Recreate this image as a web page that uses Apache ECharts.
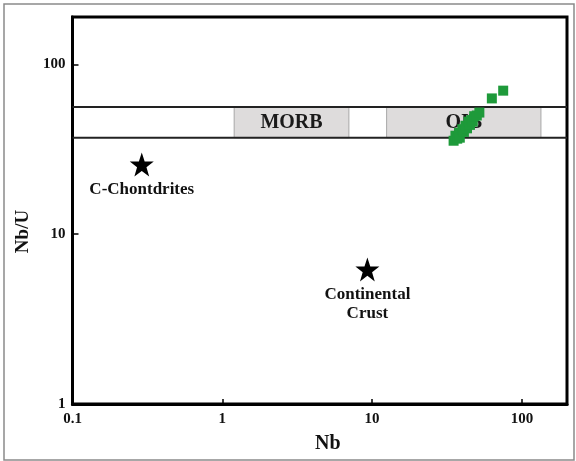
<!DOCTYPE html>
<html>
<head>
<meta charset="utf-8">
<script src="https://cdn.jsdelivr.net/npm/echarts@6/dist/echarts.min.js"></script>
<style>html,body{margin:0;padding:0;background:#fff;}#c{width:576px;height:461px;}</style>
</head>
<body>
<div id="c"></div>
<script>
// Data
var xTickLabels = [0.1, 1, 10, 100];
var yTickLabels = [1, 10, 100];
var bandLimits = [37, 56];              // Nb/U lower / upper bounds
var morbRange = [1.2, 7];               // Nb extent of MORB box
var oibRange = [12.5, 134];             // Nb extent of OIB box
var oibNb   = [35, 36, 37, 38, 38.5, 40, 41, 42, 43, 44, 45, 46, 47, 48, 50, 52, 63, 75];
var oibNbU  = [35.5, 38, 36.5, 39.5, 37, 41.5, 40, 43.5, 42, 46, 44, 47, 46, 49.5, 50, 52, 63, 70];
var refNames = ['C-Chontdrites', 'Continental\nCrust'];
var refNb    = [0.29, 9.3];
var refNbU   = [25.7, 6.2];

var FONT = 'Liberation Serif, DejaVu Serif, serif';
var STAR = 'path://M12,0 L14.9,8.6 L24,8.6 L16.7,14 L19.4,22.8 L12,17.5 L4.6,22.8 L7.3,14 L0,8.6 L9.1,8.6 Z';

var chart = echarts.init(document.getElementById('c'));
chart.setOption({
  backgroundColor: '#fff',
  animation: false,
  graphic: [{
    type: 'rect', shape: {x: 4, y: 4, width: 570, height: 456},
    style: {fill: 'none', stroke: '#8a8a8a', lineWidth: 1.5}, silent: true, z: 0
  }],
  grid: {left: 72.5, top: 17, right: 9, bottom: 57, show: true, borderColor: '#000', borderWidth: 3, backgroundColor: 'transparent'},
  xAxis: {
    type: 'log', logBase: 10, min: 0.1, max: 200,
    name: 'Nb', nameLocation: 'middle', nameGap: 30,
    nameTextStyle: {fontFamily: FONT, fontWeight: 'bold', fontSize: 20, color: '#111', padding: [0, 0, 0, 16]},
    axisLine: {lineStyle: {color: '#000', width: 3}},
    axisTick: {inside: true, length: 5, lineStyle: {color: '#000', width: 1.5}},
    splitLine: {show: false},
    axisLabel: {
      margin: 8, fontFamily: FONT, fontWeight: 'bold', fontSize: 15, color: '#111',
      formatter: function (v) { for (var i = 0; i < xTickLabels.length; i++) { if (Math.abs(v - xTickLabels[i]) < 1e-9 * xTickLabels[i] + 1e-12) return String(xTickLabels[i]); } return ''; }
    }
  },
  yAxis: {
    type: 'log', logBase: 10, min: 1, max: 190,
    name: 'Nb/U', nameLocation: 'middle', nameGap: 35,
    nameTextStyle: {fontFamily: FONT, fontWeight: 'bold', fontSize: 19, color: '#111', padding: [0, 42, 0, 0]},
    axisLine: {lineStyle: {color: '#000', width: 3}},
    axisTick: {inside: true, length: 6, lineStyle: {color: '#000', width: 1.5}},
    splitLine: {show: false},
    axisLabel: {
      margin: 7, fontFamily: FONT, fontWeight: 'bold', fontSize: 15, color: '#111',
      formatter: function (v) { for (var i = 0; i < yTickLabels.length; i++) { if (Math.abs(v - yTickLabels[i]) < 1e-9 * yTickLabels[i]) return String(yTickLabels[i]); } return ''; }
    }
  },
  series: [
    {
      type: 'line', name: 'boxes', data: [], silent: true, z: 1,
      markArea: {
        silent: true,
        itemStyle: {color: '#dedcdc', opacity: 1, borderColor: '#a8a8a8', borderWidth: 1},
        label: {show: true, position: 'inside', fontFamily: FONT, fontWeight: 'bold', fontSize: 20, color: '#1a1a1a'},
        data: [
          [{name: 'MORB', coord: [morbRange[0], bandLimits[0]]}, {coord: [morbRange[1], bandLimits[1]]}],
          [{name: 'OIB', coord: [oibRange[0], bandLimits[0]]}, {coord: [oibRange[1], bandLimits[1]]}]
        ]
      }
    },
    {
      type: 'line', name: 'lower', silent: true, z: 3, symbol: 'none',
      lineStyle: {color: '#222', width: 2},
      data: [[0.1, bandLimits[0]], [200, bandLimits[0]]]
    },
    {
      type: 'line', name: 'upper', silent: true, z: 3, symbol: 'none',
      lineStyle: {color: '#222', width: 2},
      data: [[0.1, bandLimits[1]], [200, bandLimits[1]]]
    },
    {
      type: 'scatter', name: 'samples', z: 5, symbol: 'rect', symbolSize: 10,
      itemStyle: {color: '#1e9a3a', opacity: 1},
      data: oibNb.map(function (x, i) { return [x, oibNbU[i]]; })
    },
    {
      type: 'scatter', name: 'reference', z: 5, symbol: STAR, symbolSize: 24,
      itemStyle: {color: '#000', opacity: 1},
      label: {
        show: true, position: 'bottom', distance: 4,
        fontFamily: FONT, fontWeight: 'bold', fontSize: 17, lineHeight: 19, color: '#111',
        formatter: function (p) { return refNames[p.dataIndex]; }
      },
      data: refNb.map(function (x, i) { return [x, refNbU[i]]; })
    }
  ]
});
</script>
</body>
</html>
